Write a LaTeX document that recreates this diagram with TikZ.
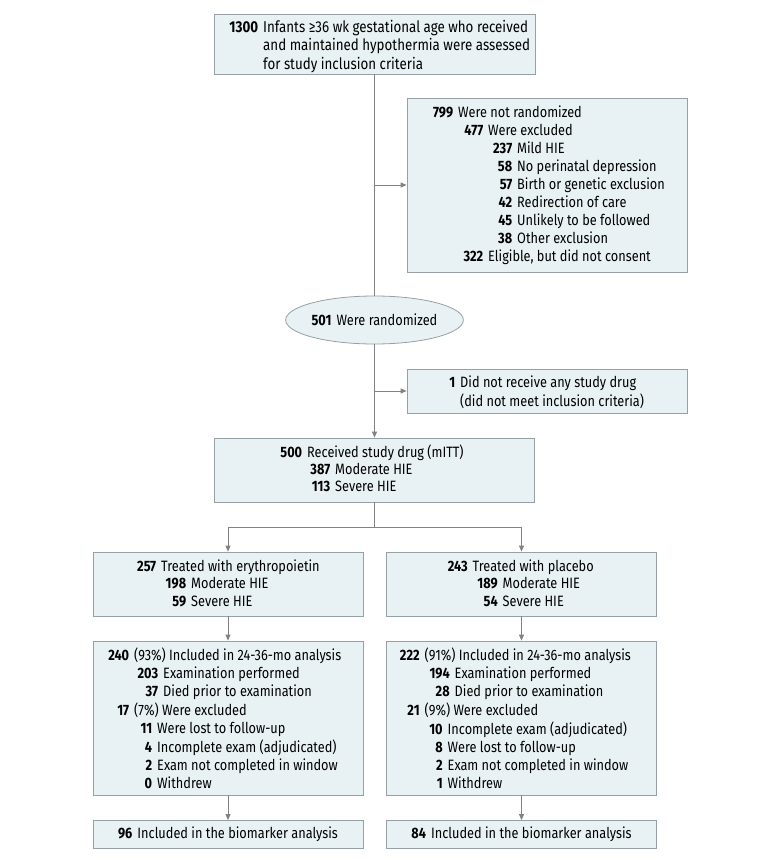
\documentclass[tikz,border=0pt]{standalone}
\usepackage{fontspec}
\setmainfont[FakeStretch=0.85]{Fira Sans}
\usetikzlibrary{arrows.meta,shapes.geometric}
\definecolor{boxfill}{RGB}{232,242,245}
\definecolor{boxdraw}{RGB}{150,160,165}
\definecolor{linecol}{RGB}{130,130,130}
\newcommand\nb[2]{\strut\hspace*{#1pt}\llap{\textbf{#2}}\hspace{5pt}}
\begin{document}
\begin{tikzpicture}[x=1pt,y=-1pt,
  box/.style={draw=boxdraw, line width=0.8pt, fill=boxfill, rectangle, inner sep=0pt},
  ell/.style={draw=boxdraw, line width=0.8pt, fill=boxfill, ellipse, inner sep=0pt,
    minimum width=172pt, minimum height=48pt, font=\fontsize{15}{17.8}\selectfont},
  txt/.style={inner sep=0pt, align=left, anchor=north west, font=\fontsize{15}{17.8}\selectfont},
  ctxt/.style={font=\fontsize{15}{17.8}\selectfont},
  conn/.style={draw=linecol, line width=0.8pt},
  arr/.style={conn, -{Triangle[length=6pt,width=5pt]}}]
\path[use as bounding box] (0,0) rectangle (780,861);

% boxes
\node[box, minimum width=321pt, minimum height=60pt] (top) at (374.5,44) {};
\node[box, minimum width=280pt, minimum height=174pt] (excl1) at (547,185) {};
\node[ell] (rand) at (374.5,320) {\textbf{501}\hspace{5pt}Were randomized};
\node[box, minimum width=280pt, minimum height=44pt] (excl2) at (547,391) {};
\node[box, minimum width=320pt, minimum height=64pt] (mitt) at (374.5,470) {};
\node[box, minimum width=270pt, minimum height=64pt] (epo) at (228,584) {};
\node[box, minimum width=270pt, minimum height=64pt] (plc) at (521.5,584) {};
\node[box, minimum width=270pt, minimum height=154pt] (epoA) at (228,718) {};
\node[box, minimum width=270pt, minimum height=154pt] (plcA) at (521.5,718) {};
\node[box, ctxt, minimum width=270pt, minimum height=28pt] (epoB) at (228,834.5)
  {\textbf{96}\hspace{5pt}Included in the biomarker analysis};
\node[box, ctxt, minimum width=270pt, minimum height=28pt] (plcB) at (521.5,834.5)
  {\textbf{84}\hspace{5pt}Included in the biomarker analysis};

% texts
\node[txt, font=\fontsize{15.7}{17}\selectfont] (topt) at (214,20) {%
\nb{44}{1300}Infants ≥36 wk gestational age who received\\
\strut\hspace*{49pt}and maintained hypothermia were assessed\\
\strut\hspace*{49pt}for study inclusion criteria};
\node[txt, font=\fontsize{15}{18}\selectfont] (excl1t) at (407,105) {%
\nb{46}{799}Were not randomized\\
\nb{76}{477}Were excluded\\
\nb{105}{237}Mild HIE\\
\nb{105}{58}No perinatal depression\\
\nb{105}{57}Birth or genetic exclusion\\
\nb{105}{42}Redirection of care\\
\nb{105}{45}Unlikely to be followed\\
\nb{105}{38}Other exclusion\\
\nb{76}{322}Eligible, but did not consent};
\node[txt, font=\fontsize{15}{16.5}\selectfont] (excl2t) at (407,376) {%
\nb{48}{1}Did not receive any study drug\\
\strut\hspace*{53pt}(did not meet inclusion criteria)};
\node[txt, font=\fontsize{15}{17}\selectfont] (mittt) at (215,445) {%
\nb{87}{500}Received study drug (mITT)\\
\nb{115}{387}Moderate HIE\\
\nb{115}{113}Severe HIE};
\node[txt, font=\fontsize{15}{17.5}\selectfont] (epot) at (93,559) {%
\nb{63}{257}Treated with erythropoietin\\
\nb{93}{198}Moderate HIE\\
\nb{93}{59}Severe HIE};
\node[txt, font=\fontsize{15}{17.5}\selectfont] (plct) at (386.5,559) {%
\nb{81}{243}Treated with placebo\\
\nb{111}{189}Moderate HIE\\
\nb{111}{54}Severe HIE};
\node[txt, font=\fontsize{15}{17.9}\selectfont] (epoAt) at (93,648) {%
\nb{36}{240}(93\%) Included in 24-36-mo analysis\\
\nb{65}{203}Examination performed\\
\nb{65}{37}Died prior to examination\\
\nb{36}{17}(7\%) Were excluded\\
\nb{59}{11}Were lost to follow-up\\
\nb{59}{4}Incomplete exam (adjudicated)\\
\nb{59}{2}Exam not completed in window\\
\nb{59}{0}Withdrew};
\node[txt, font=\fontsize{15}{17.9}\selectfont] (plcAt) at (386.5,648) {%
\nb{33}{222}(91\%) Included in 24-36-mo analysis\\
\nb{63}{194}Examination performed\\
\nb{63}{28}Died prior to examination\\
\nb{33}{21}(9\%) Were excluded\\
\nb{56}{10}Incomplete exam (adjudicated)\\
\nb{56}{8}Were lost to follow-up\\
\nb{56}{2}Exam not completed in window\\
\nb{56}{1}Withdrew};

% connectors
\coordinate (b1) at (374.5,185);
\coordinate (b2) at (374.5,391);
\coordinate (split) at (374.5,527);
\draw[conn] (top.south) -- (rand.north);
\draw[arr] (b1) -- (excl1.west);
\draw[arr] (rand.south) -- (mitt.north);
\draw[arr] (b2) -- (excl2.west);
\draw[conn] (mitt.south) -- (split);
\draw[arr] (split) -| (epo.north);
\draw[arr] (split) -| (plc.north);
\draw[arr] (epo.south) -- (epoA.north);
\draw[arr] (plc.south) -- (plcA.north);
\draw[arr] (epoA.south) -- (epoB.north);
\draw[arr] (plcA.south) -- (plcB.north);
\end{tikzpicture}
\end{document}
